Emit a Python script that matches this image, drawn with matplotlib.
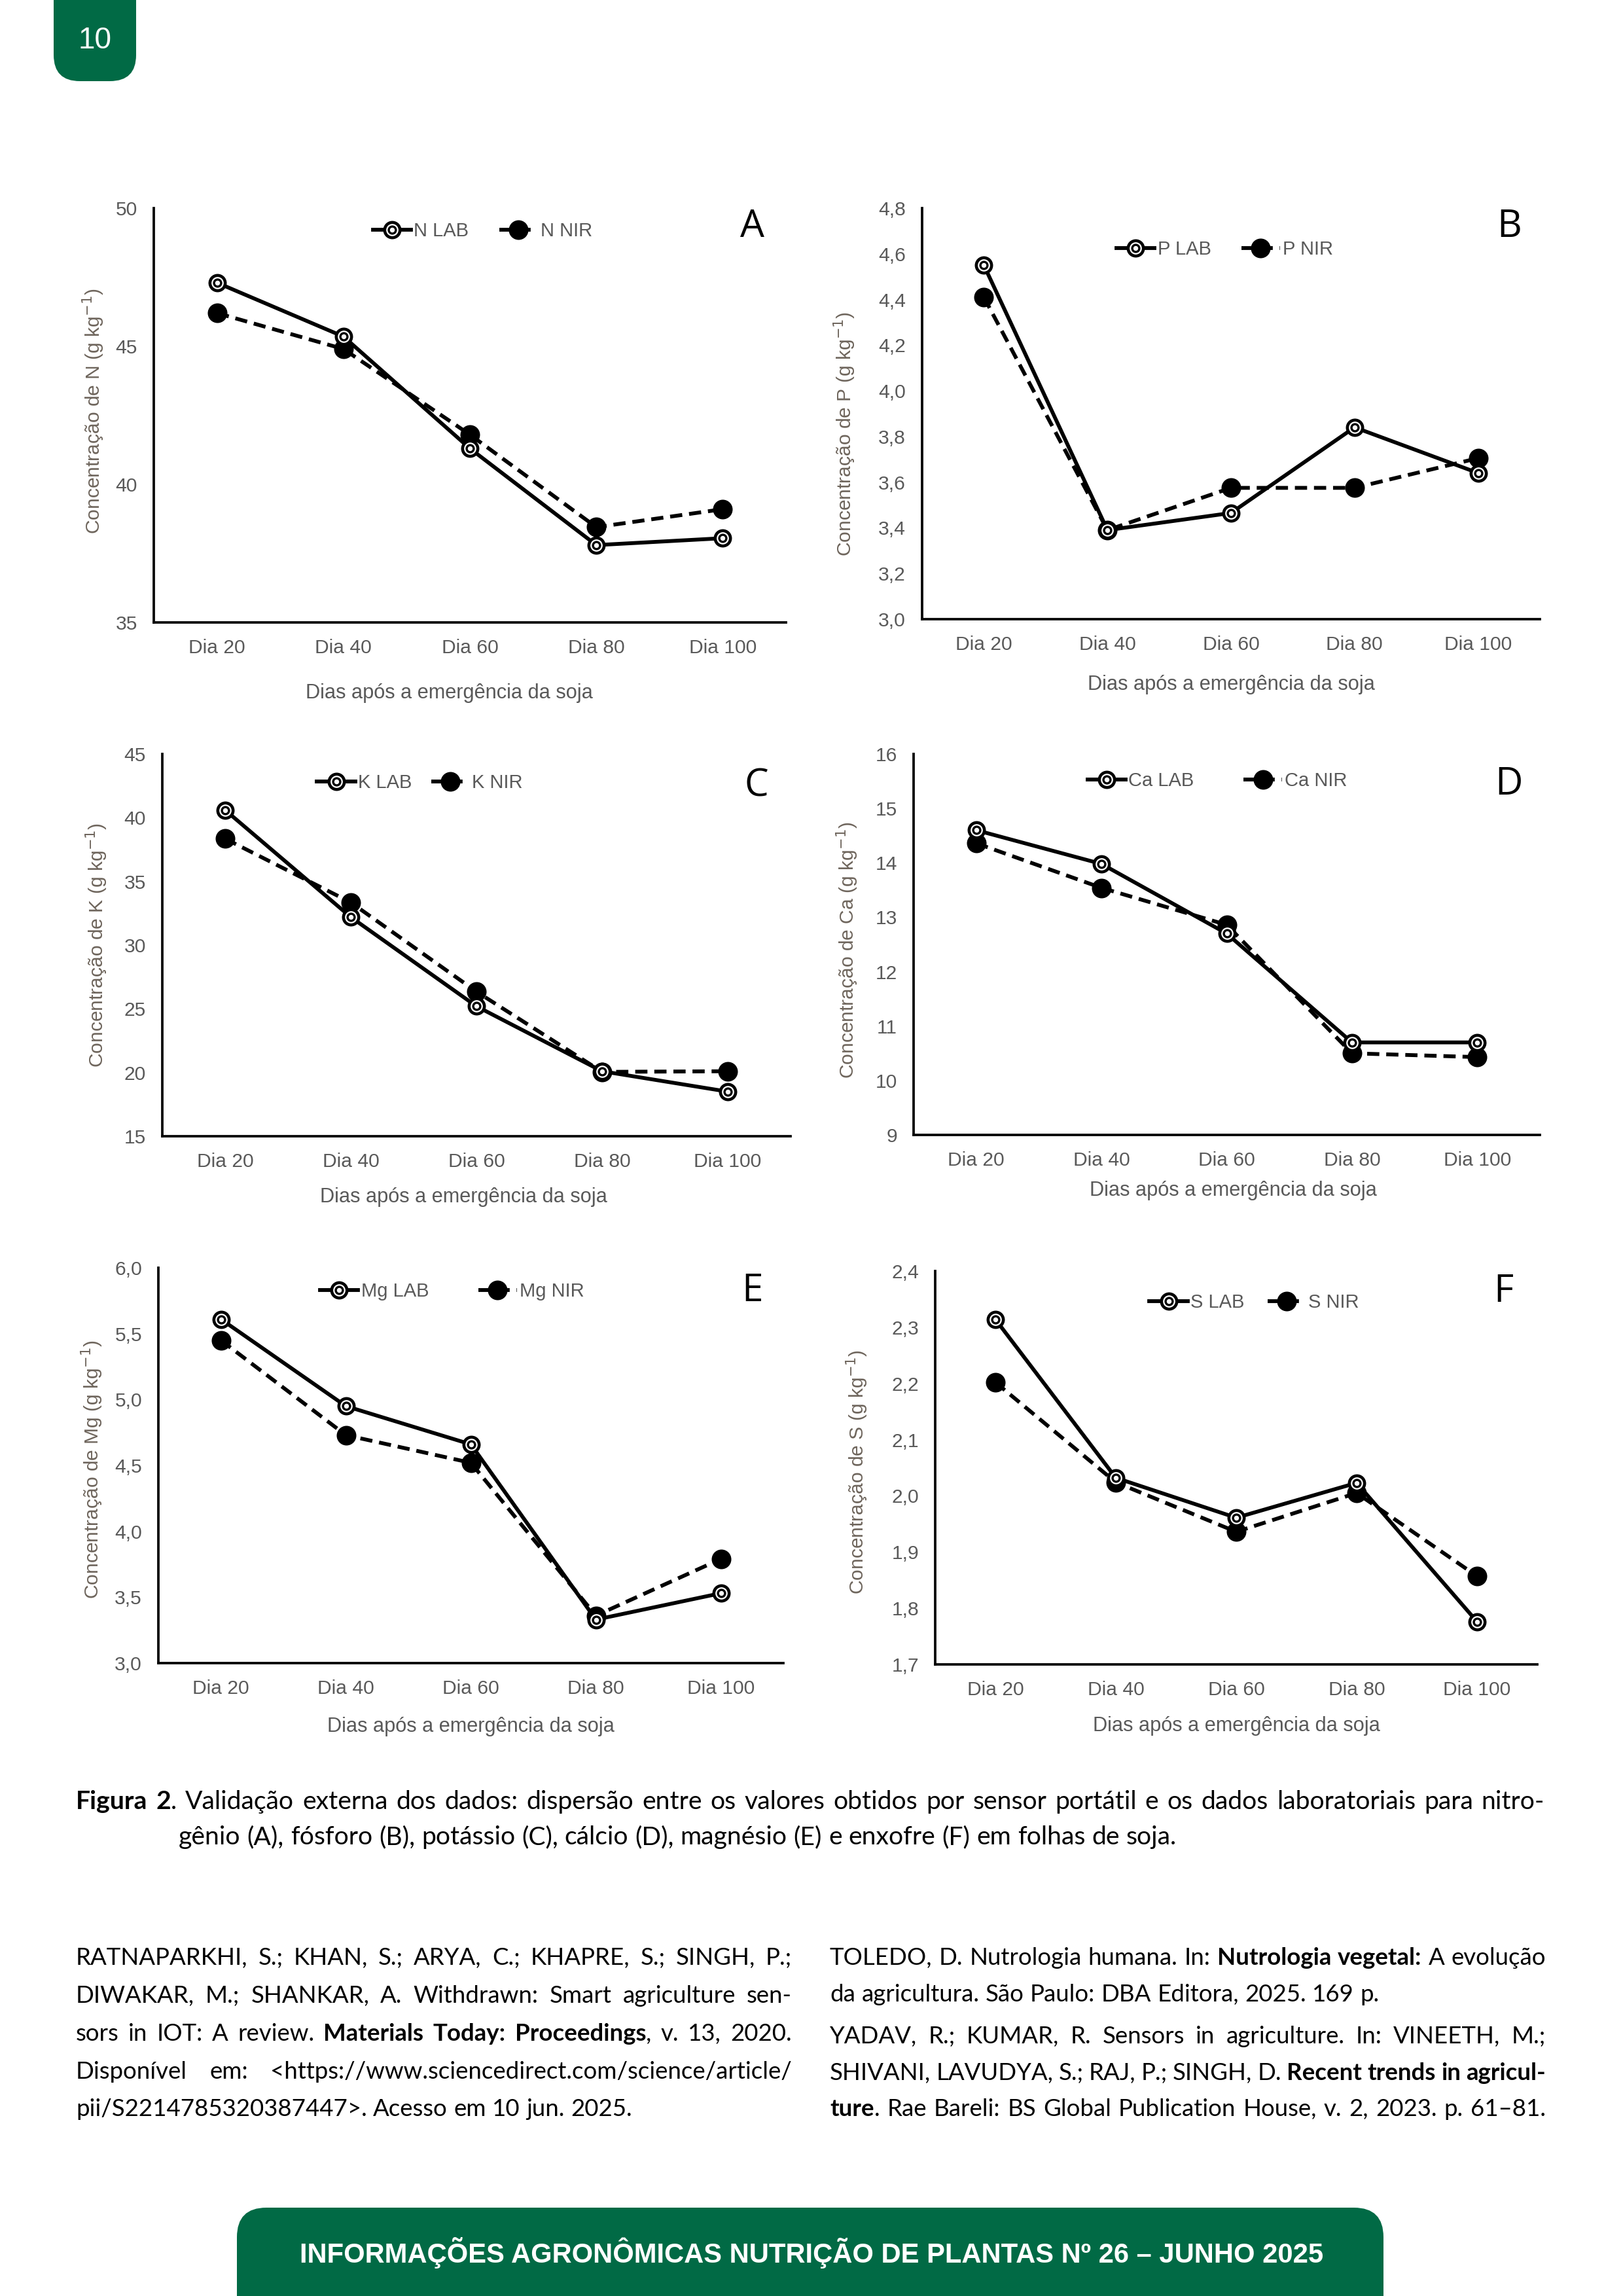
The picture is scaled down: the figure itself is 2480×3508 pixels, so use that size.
import matplotlib
matplotlib.use("Agg")
import matplotlib.pyplot as plt
from matplotlib.legend_handler import HandlerTuple
from matplotlib.patches import FancyBboxPatch

W, H = 2480, 3508
GREEN = '#016a45'
GRAY = '#595959'
LABEL_GRAY = '#6e655c'
CHART_FONT = ['Liberation Sans Narrow', 'Liberation Sans', 'DejaVu Sans']
PAGE_FONT = ['Lato', 'DejaVu Sans']

# dados
dias = ['Dia 20', 'Dia 40', 'Dia 60', 'Dia 80', 'Dia 100']

n_lab = [47.3, 45.35, 41.3, 37.8, 38.05]
n_nir = [46.2, 44.9, 41.8, 38.45, 39.1]
p_lab = [4.55, 3.39, 3.465, 3.84, 3.64]
p_nir = [4.41, 3.39, 3.575, 3.575, 3.705]
k_lab = [40.6, 32.2, 25.2, 20.1, 18.5]
k_nir = [38.35, 33.35, 26.35, 20.05, 20.1]
ca_lab = [14.6, 13.98, 12.7, 10.7, 10.7]
ca_nir = [14.36, 13.54, 12.86, 10.5, 10.43]
mg_lab = [5.61, 4.95, 4.66, 3.33, 3.53]
mg_nir = [5.45, 4.73, 4.52, 3.36, 3.79]
s_lab = [2.314, 2.032, 1.961, 2.023, 1.776]
s_nir = [2.202, 2.024, 1.936, 2.005, 1.857]

n_ticks = [35, 40, 45, 50]
p_ticks = [3.0, 3.2, 3.4, 3.6, 3.8, 4.0, 4.2, 4.4, 4.6, 4.8]
k_ticks = [15, 20, 25, 30, 35, 40, 45]
ca_ticks = [9, 10, 11, 12, 13, 14, 15, 16]
mg_ticks = [3.0, 3.5, 4.0, 4.5, 5.0, 5.5, 6.0]
s_ticks = [1.7, 1.8, 1.9, 2.0, 2.1, 2.2, 2.3, 2.4]

# panel: letter, element, lab, nir, ticks, decimals, box(px: left, right, top, bottom),
#        ylabel pos, xlabel pos, legend pos, letter pos, legend colspacing
panels = [
    ('A', 'N', n_lab, n_nir, n_ticks, 0, (235, 1201, 318, 951),
     (-0.095, 0.51), (0.467, -0.17), (0.52, 0.945), (0.947, 0.955), 1.6),
    ('B', 'P', p_lab, p_nir, p_ticks, 1, (1409, 2353, 318, 946),
     (-0.125, 0.45), (0.50, -0.16), (0.49, 0.90), (0.95, 0.955), 1.6),
    ('C', 'K', k_lab, k_nir, k_ticks, 0, (248, 1208, 1152, 1736),
     (-0.104, 0.50), (0.48, -0.16), (0.41, 0.925), (0.946, 0.915), 1.0),
    ('D', 'Ca', ca_lab, ca_nir, ca_ticks, 0, (1396, 2353, 1152, 1734),
     (-0.106, 0.485), (0.51, -0.146), (0.485, 0.93), (0.95, 0.92), 2.6),
    ('E', 'Mg', mg_lab, mg_nir, mg_ticks, 1, (242, 1197, 1937, 2541),
     (-0.106, 0.49), (0.50, -0.16), (0.47, 0.94), (0.95, 0.94), 2.6),
    ('F', 'S', s_lab, s_nir, s_ticks, 1, (1429, 2349, 1942, 2543),
     (-0.13, 0.49), (0.50, -0.156), (0.53, 0.92), (0.944, 0.948), 1.2),
]

fig = plt.figure(figsize=(W / 300, H / 300), dpi=300)
fig.patch.set_facecolor('white')

for (letter, el, lab, nir, ticks, dec, box, ylp, xlp, lgp, ltp, colsp) in panels:
    left, right, top, bottom = box
    ax = fig.add_axes([left / W, 1 - bottom / H, (right - left) / W, (bottom - top) / H])
    x = list(range(len(dias)))
    lab_line, = ax.plot(x, lab, color='black', lw=1.4, marker='o', ms=5.6,
                        mfc='white', mec='black', mew=1.1, zorder=3)
    lab_in, = ax.plot(x, lab, ls='none', marker='o', ms=2.6,
                      mfc='white', mec='black', mew=0.8, zorder=4)
    nir_line, = ax.plot(x, nir, color='black', lw=1.4, ls=(0, (3.2, 1.8)),
                        marker='o', ms=6.2, mfc='black', mec='black', zorder=2)
    ax.set_xlim(-0.5, len(dias) - 0.5)
    ax.set_ylim(ticks[0], ticks[-1])
    ax.set_xticks(x)
    ax.set_xticklabels(dias)
    ax.set_yticks(ticks)
    ax.set_yticklabels([('%.*f' % (dec, t)).replace('.', ',') for t in ticks])
    for sp in ['top', 'right']:
        ax.spines[sp].set_visible(False)
    for sp in ['left', 'bottom']:
        ax.spines[sp].set_linewidth(0.9)
        ax.spines[sp].set_color('black')
    ax.tick_params(axis='both', length=0, labelsize=7.2, labelcolor=GRAY)
    ax.tick_params(axis='x', pad=6)
    ax.tick_params(axis='y', pad=6)
    for t in ax.get_xticklabels() + ax.get_yticklabels():
        t.set_family(CHART_FONT)

    ax.text(ylp[0], ylp[1], 'Concentração de %s (g kg$^{-1}$)' % el, transform=ax.transAxes,
            rotation=90, ha='center', va='center', fontsize=7.2, color=LABEL_GRAY,
            family=['Liberation Sans', 'DejaVu Sans'])
    ax.text(xlp[0], xlp[1], 'Dias após a emergência da soja', transform=ax.transAxes,
            ha='center', va='center', fontsize=7.4, color=GRAY, family=CHART_FONT)
    ax.text(ltp[0], ltp[1], letter, transform=ax.transAxes, ha='center', va='center',
            fontsize=14, color='black', family=['Open Sans', 'DejaVu Sans'])

    leg = ax.legend([(lab_line, lab_in), nir_line], ['%s LAB' % el, '%s NIR' % el],
                    handler_map={tuple: HandlerTuple(ndivide=1)},
                    loc='center', bbox_to_anchor=lgp, ncol=2, frameon=False,
                    handlelength=2.0, handletextpad=0.15, columnspacing=colsp,
                    prop={'family': CHART_FONT, 'size': 7.0})
    for t in leg.get_texts():
        t.set_color(GRAY)

renderer = fig.canvas.get_renderer()


def text_width(s, size, weight, family):
    t = fig.text(0, 0, s, fontsize=size, fontweight=weight, family=family)
    w = t.get_window_extent(renderer).width
    t.remove()
    return w


def parse_words(line):
    bold = False
    words = []
    for tok in line.split(' '):
        pieces = []
        parts = tok.split('*')
        for i, p in enumerate(parts):
            if i > 0:
                bold = not bold
            if p:
                pieces.append((p, bold))
        words.append(pieces)
    return words


def put_line(line, x0, y, size, x1=None, family=PAGE_FONT, color='black'):
    words = parse_words(line)
    widths = [[text_width(p, size, 'bold' if b else 'normal', family) for p, b in w] for w in words]
    space = text_width('n n', size, 'normal', family) - text_width('nn', size, 'normal', family)
    total = sum(sum(w) for w in widths)
    gap = space
    if x1 is not None and len(words) > 1:
        gap = (x1 - x0 - total) / (len(words) - 1)
    x = x0
    for w, ws in zip(words, widths):
        for (p, b), pw in zip(w, ws):
            fig.text(x / W, 1 - y / H, p, fontsize=size, fontweight='bold' if b else 'normal',
                     family=family, color=color, ha='left', va='baseline')
            x += pw
        x += gap


def fit_size(line, target, family=PAGE_FONT, weight='normal'):
    words = parse_words(line)
    plain = ' '.join(''.join(p for p, b in w) for w in words)
    return 10 * target / text_width(plain, 10, weight, family)


# legenda da figura
cap1 = '*Figura 2*. Validação externa dos dados: dispersão entre os valores obtidos por sensor portátil e os dados laboratoriais para nitro-'
cap2 = 'gênio (A), fósforo (B), potássio (C), cálcio (D), magnésio (E) e enxofre (F) em folhas de soja.'
cap_size = fit_size(cap2, 1523)
put_line(cap1, 116, 2764, cap_size, x1=2360)
put_line(cap2, 273, 2818, cap_size)

# referências
ref_left = [
    ('RATNAPARKHI, S.; KHAN, S.; ARYA, C.; KHAPRE, S.; SINGH, P.;', True),
    ('DIWAKAR, M.; SHANKAR, A. Withdrawn: Smart agriculture sen-', True),
    ('sors in IOT: A review. *Materials Today: Proceedings*, v. 13, 2020.', True),
    ('Disponível em: <https://www.sciencedirect.com/science/article/', True),
    ('pii/S2214785320387447>. Acesso em 10 jun. 2025.', False),
]
ref_right = [
    ('TOLEDO, D. Nutrologia humana. In: *Nutrologia vegetal:* A evolução', True),
    ('da agricultura. São Paulo: DBA Editora, 2025. 169 p.', False),
    ('YADAV, R.; KUMAR, R. Sensors in agriculture. In: VINEETH, M.;', True),
    ('SHIVANI, LAVUDYA, S.; RAJ, P.; SINGH, D. *Recent trends in agricul-*', True),
    ('*ture*. Rae Bareli: BS Global Publication House, v. 2, 2023. p. 61–81.', True),
]
ref_size = fit_size(ref_left[4][0], 848)
left_y = [3002, 3060, 3118, 3176, 3233]
right_y = [3002, 3058, 3122, 3178, 3233]
for (line, just), y in zip(ref_left, left_y):
    put_line(line, 116, y, ref_size, x1=1210 if just else None)
for (line, just), y in zip(ref_right, right_y):
    put_line(line, 1268, y, ref_size, x1=2362 if just else None)

# número da página (coordenadas em pixels, origem embaixo)
fig.patches.append(FancyBboxPatch((82 + 40, H - 124 + 40), 126 - 80, 324 - 80,
                                  boxstyle='round,pad=40', transform=None,
                                  fc=GREEN, ec='none', figure=fig, zorder=0))
fig.text(145 / W, 1 - 62 / H, '10', fontsize=11, color='white', ha='center', va='center',
         family=['Liberation Sans', 'DejaVu Sans'], zorder=5)

# rodapé
fig.patches.append(FancyBboxPatch((362 + 45, -200 + 45), 1752 - 90, 335 - 90,
                                  boxstyle='round,pad=45', transform=None,
                                  fc=GREEN, ec='none', figure=fig, zorder=0))
foot = 'INFORMAÇÕES AGRONÔMICAS NUTRIÇÃO DE PLANTAS Nº 26 – JUNHO 2025'
foot_family = ['Liberation Sans', 'DejaVu Sans']
foot_size = fit_size(foot, 1562, family=foot_family, weight='bold')
fig.text(1240 / W, 1 - 3442 / H, foot, fontsize=foot_size, fontweight='bold', color='white',
         ha='center', va='center', family=foot_family, zorder=5)

fig.savefig('out.png', dpi=300, facecolor='white')
